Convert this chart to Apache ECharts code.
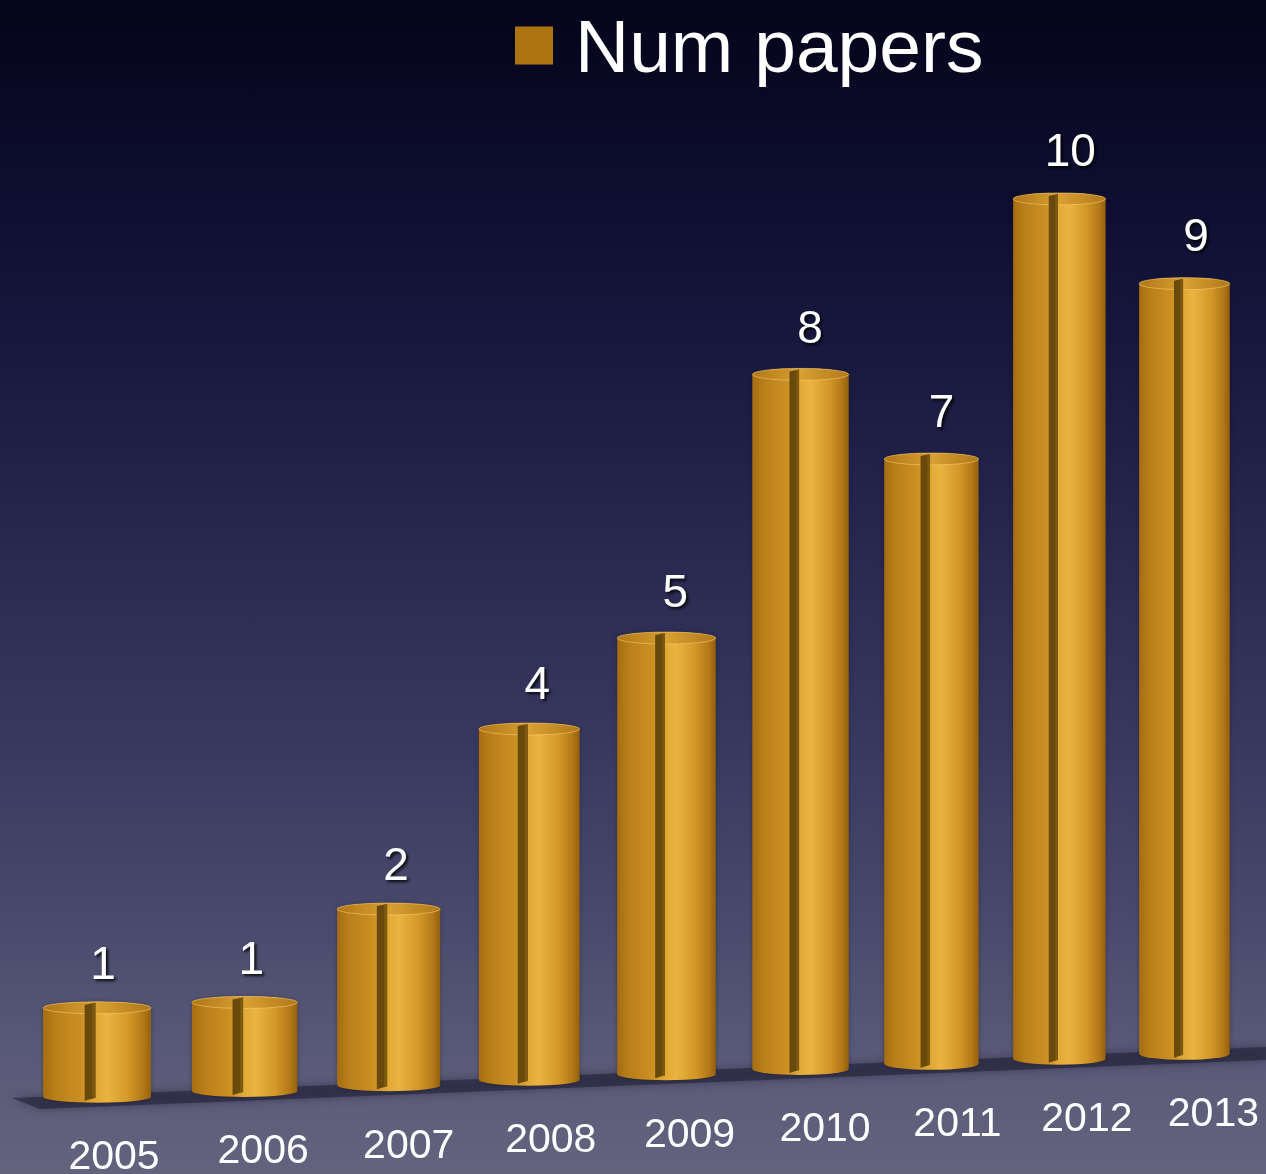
<!DOCTYPE html>
<html>
<head>
<meta charset="utf-8">
<script src="https://cdn.jsdelivr.net/npm/echarts@6/dist/echarts.min.js"></script>
<style>
  html, body { margin: 0; padding: 0; }
  #chart {
    width: 1266px; height: 1174px;
    background: linear-gradient(to bottom, #04041a 0%, #0f0f32 18%, #1f1f48 38%, #33335b 58%, #49496c 78%, #5c5c7a 92%, #63637e 100%);
  }
</style>
</head>
<body>
<div id="chart"></div>
<script>
const categories = ['2005', '2006', '2007', '2008', '2009', '2010', '2011', '2012', '2013'];
const numPapers = [1, 1, 2, 4, 5, 8, 7, 10, 9];
const seriesName = 'Num papers';

const chart = echarts.init(document.getElementById('chart'), null, { renderer: 'canvas' });

const bodyStops = [
  { offset: 0, color: '#a56d12' },
  { offset: 0.12, color: '#b97f19' },
  { offset: 0.36, color: '#cc9024' },
  { offset: 0.48, color: '#e0a834' },
  { offset: 0.6, color: '#e9b441' },
  { offset: 0.8, color: '#d19627' },
  { offset: 0.93, color: '#b27818' },
  { offset: 1, color: '#94600c' }
];
const topStops = [
  { offset: 0, color: '#b07616' },
  { offset: 0.5, color: '#d9a033' },
  { offset: 1, color: '#b07818' }
];
const FONT = '"Liberation Sans", Arial, Helvetica, sans-serif';

function renderItem(params, api) {
  const i = params.dataIndex;
  const v = api.value(1);
  const p0 = api.coord([i, 0]);
  const p1 = api.coord([i, v]);
  const band = api.size([1, 0])[0];
  const c0 = api.coord([0, 0])[0];
  const u = (p0[0] - c0) / band;
  // perspective: the row of cylinders recedes to the right
  const cx = c0 + 5 + band * 1.082 * u / (1 + 0.01243 * u);
  const base = p0[1] - (cx - c0) * 0.0395;
  const h = (p0[1] - p1[1]) / (1 + 0.005 * u);
  const w = band * 0.782 / (1 + 0.024 * u);
  const ry = 6;
  const rx = w / 2;
  const l = cx - rx, r = cx + rx;
  const visTop = base - 2 * ry - h;
  const yt = visTop + ry;
  const yb = base - ry;

  const body = `M${l},${yt} L${l},${yb} A${rx},${ry} 0 0 0 ${r},${yb} L${r},${yt} A${rx},${ry} 0 0 0 ${l},${yt} Z`;
  const topE = `M${l},${yt} A${rx},${ry} 0 0 0 ${r},${yt} A${rx},${ry} 0 0 0 ${l},${yt} Z`;
  const gx = l + w * 0.385;
  const gw = w * 0.1;

  return {
    type: 'group',
    children: [
      {
        type: 'path',
        shape: { pathData: body },
        style: {
          fill: new echarts.graphic.LinearGradient(0, 0, 1, 0, bodyStops),
          shadowColor: 'rgba(20,15,30,0.35)', shadowBlur: 4
        }
      },
      {
        type: 'path',
        shape: { pathData: topE },
        style: {
          fill: new echarts.graphic.LinearGradient(0, 0, 1, 0, topStops),
          stroke: 'rgba(255,214,120,0.5)', lineWidth: 1
        }
      },
      {
        type: 'polygon',
        shape: { points: [[gx, visTop + 3], [gx + gw, visTop + 1], [gx + gw, base - 5], [gx, base - 2]] },
        style: { fill: '#694a0c' }
      },
      {
        type: 'polygon',
        shape: { points: [[gx + gw * 0.7, visTop + 2], [gx + gw, visTop + 1], [gx + gw, base - 5], [gx + gw * 0.7, base - 4]] },
        style: { fill: '#7d5811' }
      },
      {
        type: 'text',
        x: cx + 6 + 0.7 * u,
        y: visTop - 35 - 0.6 * u,
        style: {
          text: String(v),
          fill: '#ffffff',
          font: `46px ${FONT}`,
          align: 'center',
          verticalAlign: 'middle',
          textShadowColor: 'rgba(0,0,0,0.85)',
          textShadowBlur: 3,
          textShadowOffsetX: 2,
          textShadowOffsetY: 2
        }
      },
      {
        type: 'text',
        x: cx + 17 + 1.5 * u,
        y: base + 55,
        style: {
          text: categories[i],
          fill: '#ffffff',
          font: `41px ${FONT}`,
          align: 'center',
          verticalAlign: 'middle'
        }
      }
    ]
  };
}

const option = {
  animation: false,
  backgroundColor: 'transparent',
  legend: {
    data: [seriesName],
    left: 515,
    top: 14,
    padding: 0,
    icon: 'rect',
    itemWidth: 38,
    itemHeight: 38,
    selectedMode: false,
    formatter: '{n|{name}}',
    textStyle: {
      color: '#ffffff',
      fontSize: 75,
      fontFamily: FONT,
      padding: [0, 0, 0, 17],
      rich: {
        n: {
          color: '#ffffff',
          fontSize: 75,
          fontFamily: FONT,
          padding: [12, 0, 0, 0]
        }
      }
    }
  },
  grid: { left: 23, right: 0, top: 213, height: 890 },
  xAxis: { type: 'category', data: categories, show: false },
  yAxis: { type: 'value', min: 0, max: 10, show: false },
  graphic: [
    {
      type: 'polygon',
      z: 0,
      shape: { points: [[12, 1098], [1266, 1047], [1266, 1060], [40, 1109]] },
      style: { fill: 'rgba(40,40,62,0.7)', shadowColor: 'rgba(40,40,62,0.8)', shadowBlur: 8 }
    }
  ],
  series: [{
    name: seriesName,
    type: 'custom',
    z: 5,
    itemStyle: { color: '#ab7411' },
    renderItem: renderItem,
    data: numPapers.map((v, i) => [i, v])
  }]
};
chart.setOption(option);
</script>
</body>
</html>
